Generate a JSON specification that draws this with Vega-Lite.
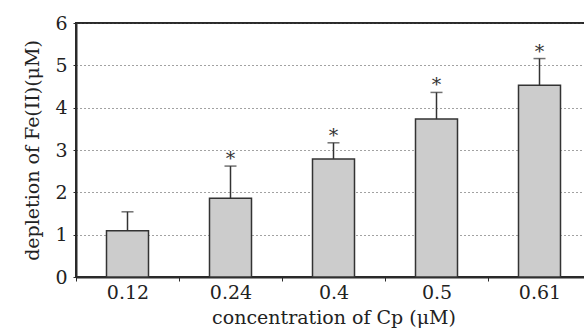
{
  "$schema": "https://vega.github.io/schema/vega-lite/v6.json",
  "autosize": "none",
  "padding": {"left": 76, "top": 23, "right": 0, "bottom": 53},
  "width": 515,
  "height": 254,
  "background": "white",
  "config": {
    "font": "DejaVu Serif",
    "view": {"stroke": "#2a2a2a", "strokeWidth": 2}
  },
  "data": {
    "values": [
      {"conc": "0.12", "value": 1.09, "upper": 1.54, "sig": ""},
      {"conc": "0.24", "value": 1.86, "upper": 2.62, "sig": "*"},
      {"conc": "0.4", "value": 2.79, "upper": 3.17, "sig": "*"},
      {"conc": "0.5", "value": 3.73, "upper": 4.36, "sig": "*"},
      {"conc": "0.61", "value": 4.53, "upper": 5.16, "sig": "*"}
    ]
  },
  "encoding": {
    "x": {
      "field": "conc",
      "type": "ordinal",
      "sort": null,
      "scale": {"paddingInner": 0, "paddingOuter": 0},
      "axis": {
        "title": "concentration of Cp (μM)",
        "titleFont": "DejaVu Serif",
        "titleFontSize": 19,
        "titleFontWeight": "normal",
        "titleColor": "#222",
        "titlePadding": 6,
        "labelFont": "DejaVu Serif",
        "labelFontSize": 19,
        "labelColor": "#222",
        "labelAngle": 0,
        "labelPadding": 2,
        "tickBand": "extent",
        "tickSize": 4,
        "tickColor": "#2a2a2a",
        "domainColor": "#2a2a2a",
        "domainWidth": 2,
        "grid": false
      }
    }
  },
  "layer": [
    {
      "mark": {"type": "bar", "size": 42, "fill": "#cccccc", "stroke": "#333333", "strokeWidth": 1.5},
      "encoding": {
        "y": {
          "field": "value",
          "type": "quantitative",
          "scale": {"domain": [0, 6], "nice": false},
          "axis": {
            "title": "depletion of Fe(II)(μM)",
            "titleFont": "DejaVu Serif",
            "titleFontSize": 19,
            "titleFontWeight": "normal",
            "titleColor": "#222",
            "titlePadding": 12,
            "labelFont": "DejaVu Serif",
            "labelFontSize": 19,
            "labelColor": "#222",
            "labelPadding": 6,
            "tickCount": 6,
            "ticks": true,
            "tickSize": 3,
            "tickColor": "#2a2a2a",
            "domainColor": "#2a2a2a",
            "domainWidth": 2,
            "grid": true,
            "gridColor": "#444444",
            "gridDash": [1, 3],
            "gridWidth": 1
          }
        }
      }
    },
    {
      "mark": {"type": "rule", "stroke": "#333333", "strokeWidth": 1.5},
      "encoding": {
        "y": {"field": "value", "type": "quantitative"},
        "y2": {"field": "upper"}
      }
    },
    {
      "mark": {"type": "tick", "orient": "horizontal", "size": 12, "thickness": 1.5, "color": "#333333"},
      "encoding": {
        "y": {"field": "upper", "type": "quantitative"}
      }
    },
    {
      "mark": {"type": "text", "baseline": "alphabetic", "dy": -1, "fontSize": 19, "color": "#333333", "font": "DejaVu Serif"},
      "encoding": {
        "y": {"field": "upper", "type": "quantitative"},
        "text": {"field": "sig"}
      }
    }
  ]
}
